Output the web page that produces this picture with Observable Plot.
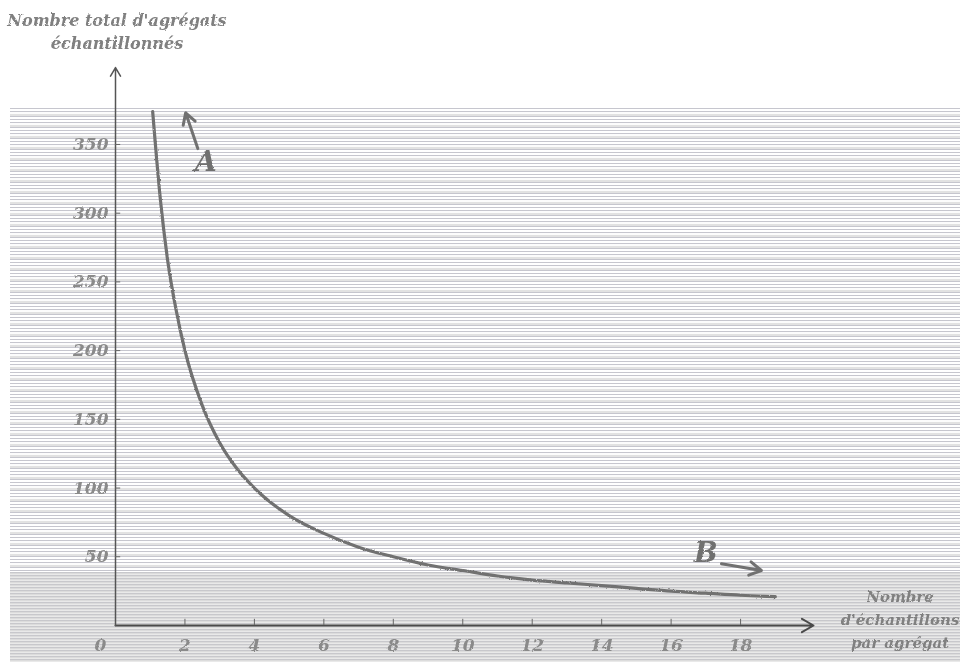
<!DOCTYPE html>
<html>
<head>
<meta charset="utf-8">
<script src="https://cdn.jsdelivr.net/npm/d3@7"></script>
<script src="https://cdn.jsdelivr.net/npm/@observablehq/plot@0.6"></script>
<style>
  body { margin: 0; background: #fff; }
  #wrap { position: relative; width: 960px; height: 662px; overflow: hidden;
          font-family: "DejaVu Serif", serif; font-style: italic; color: #808080; }
  .stripes { position: absolute; left: 10px; right: 0; top: 108px; bottom: 0;
    background: repeating-linear-gradient(to bottom,
      #c6c6ce 0 1px, #fff 1px 3px, #c6c6ce 3px 4px, #fcfcfc 4px 6px,
      #e2e2e2 6px 8px, #c6c6ce 8px 9px, #fff 9px 11px); }
  .dense { position: absolute; left: 10px; right: 0; top: 572px; bottom: 0;
    background: repeating-linear-gradient(to bottom,
      #c8c8cc 0 1px, #dcdcdc 1px 2px, #e9e9e9 2px 3px); }
  #chart { position: absolute; left: 0; top: 0; }
  .lab { position: absolute; text-align: center; font-size: 16px; line-height: 23px;
         font-weight: bold; white-space: nowrap; filter: url(#grain); }
</style>
</head>
<body>
<svg width="0" height="0" style="position:absolute">
  <filter id="grain" x="-5%" y="-5%" width="110%" height="110%">
    <feTurbulence type="fractalNoise" baseFrequency="0.9" numOctaves="1" seed="3" result="n"/>
    <feDisplacementMap in="SourceGraphic" in2="n" scale="2.5" xChannelSelector="R" yChannelSelector="G"/>
  </filter>
</svg>
<div id="wrap">
  <div class="stripes"></div>
  <div class="dense"></div>
  <div id="chart"></div>
  <div class="lab" style="left:0;top:9px;width:234px">Nombre total d'agrégats<br>échantillonnés</div>
  <div class="lab" style="left:838px;top:586px;width:124px;font-size:15px">Nombre<br>d'échantillons<br>par agrégat</div>
</div>
<script>
// Samples taken per cluster (x) against total clusters sampled (y)
const samplesPerCluster = [1.07, 1.3, 1.5, 1.75, 2, 2.5, 3, 3.5, 4, 5, 6, 7, 8, 9, 10, 11, 12, 13, 14, 15, 16, 17, 18, 19];
const totalClusters     = [374, 308, 266, 229, 200, 160, 133, 114, 100, 80, 67, 57, 50, 44, 40, 36, 33, 31, 29, 27, 25, 23.5, 22, 21];

// Axis ticks
const xTicks = [2, 4, 6, 8, 10, 12, 14, 16, 18];
const xOrigin = [0];
const yTicks = [50, 100, 150, 200, 250, 300, 350];
const xAxisEnd = 20.1;
const yAxisEnd = 406;

// Point annotations A and B with their pointers
const noteLabels = ["A", "B"];
const noteX = [2.6, 17.0];
const noteY = [337, 53];
const pointerX1 = [2.37, 17.45];
const pointerY1 = [347, 45];
const pointerX2 = [2.02, 18.6];
const pointerY2 = [373, 40];

const curve = samplesPerCluster.map((x, i) => ({x, y: totalClusters[i]}));
const notes = noteLabels.map((t, i) => ({t, x: noteX[i], y: noteY[i]}));
const pointers = noteLabels.map((t, i) => ({x1: pointerX1[i], y1: pointerY1[i], x2: pointerX2[i], y2: pointerY2[i]}));

const ink = "#717171";
const textStyle = {fontFamily: "DejaVu Serif", fontStyle: "italic", fontWeight: "bold", fontSize: 17, fill: "#8a8a8a"};

const chart = Plot.plot({
  width: 960,
  height: 662,
  marginLeft: 115,
  marginRight: 147,
  marginTop: 67,
  marginBottom: 37,
  style: {background: "transparent", overflow: "visible"},
  x: {domain: [0, xAxisEnd]},
  y: {domain: [0, yAxisEnd]},
  marks: [
    // axes drawn as arrows from the origin
    Plot.arrow([0], {x1: 0, y1: 0, x2: xAxisEnd, y2: 0, stroke: "#4a4a4a", strokeWidth: 2, headLength: 10}),
    Plot.arrow([0], {x1: 0, y1: 0, x2: 0, y2: yAxisEnd, stroke: "#555", strokeWidth: 1.5, headLength: 10}),
    Plot.ruleX(xTicks, {x: d => d, y1: 0, y2: 4.5, stroke: "#666"}),
    Plot.ruleY(yTicks, {y: d => d, x1: 0, x2: 0.15, stroke: "#666"}),
    Plot.axisX({ticks: xTicks, tickSize: 0, tickPadding: 13, label: null, ...textStyle}),
    Plot.axisY({ticks: yTicks, tickSize: 0, tickPadding: 7, label: null, ...textStyle}),
    Plot.text(xOrigin, {x: d => d, y: 0, dx: -15, dy: 20, text: d => String(d), ...textStyle}),
    // the curve
    Plot.line(curve, {x: "x", y: "y", curve: "monotone-x", stroke: ink, strokeWidth: 3.2}),
    // annotations
    Plot.arrow(pointers, {x1: "x1", y1: "y1", x2: "x2", y2: "y2", stroke: ink, strokeWidth: 3, headLength: 9}),
    Plot.text(notes, {x: "x", y: "y", text: "t", fontFamily: "DejaVu Serif", fontStyle: "italic", fontWeight: "bold", fontSize: 28, fill: "#707070"})
  ]
});
chart.querySelectorAll("text, path").forEach(el => {
  if (el.closest("[aria-label='line']") || el.closest("[aria-label='text']") || el.closest("[aria-label='y-axis tick label']") || el.closest("[aria-label='x-axis tick label']")) {
    el.style.filter = "url(#grain)";
  }
});
document.getElementById("chart").append(chart);
</script>
</body>
</html>
